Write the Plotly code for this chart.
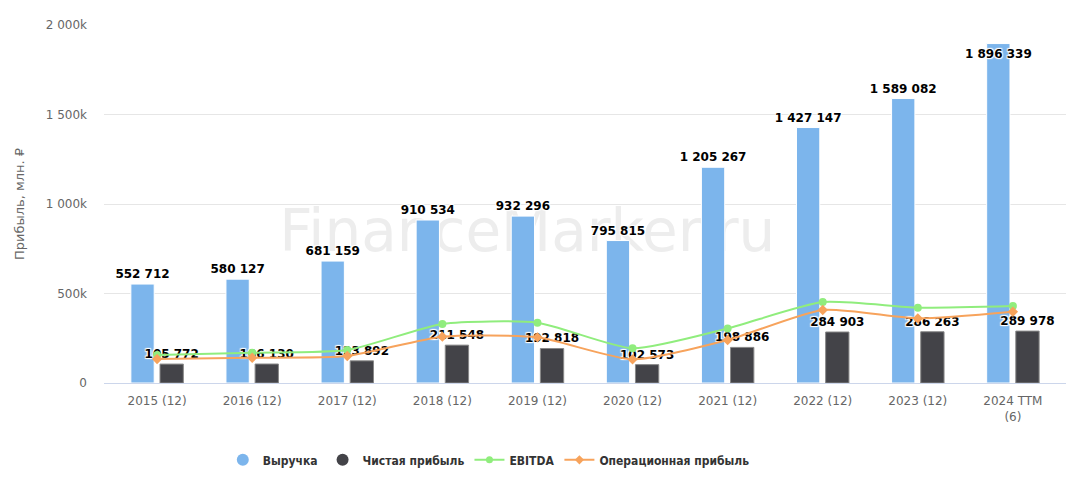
import plotly.graph_objects as go

# data
periods = ["2015 (12)", "2016 (12)", "2017 (12)", "2018 (12)", "2019 (12)",
           "2020 (12)", "2021 (12)", "2022 (12)", "2023 (12)", "2024 TTM<br>(6)"]
revenue = [552712, 580127, 681159, 910534, 932296, 795815, 1205267, 1427147, 1589082, 1896339]
net_profit = [105772, 106130, 123892, 211548, 192818, 102573, 198886, 284903, 286263, 289978]
ebitda = [156000, 169000, 184000, 330000, 337000, 194000, 305000, 452000, 421000, 430000]
op_profit = [134000, 141000, 151000, 259000, 255000, 132000, 240000, 408000, 361000, 398000]

y_ticks = [0, 500000, 1000000, 1500000, 2000000]
y_tick_text = ["0", "500k", "1 000k", "1 500k", "2 000k"]

c_rev = "#7cb5ec"
c_net = "#434348"
c_ebitda = "#90ed7d"
c_op = "#f7a35c"

halo = "1px 1px 1px #fff, -1px -1px 1px #fff, 1px -1px 1px #fff, -1px 1px 1px #fff"
label_font = dict(family="DejaVu Sans", size=12, color="#000", weight="bold", shadow=halo)

rev_pos = ["outside"] * (len(revenue) - 1) + ["inside"]

fig = go.Figure()
fig.add_trace(go.Bar(x=periods, y=revenue, name="Выручка", marker=dict(color=c_rev, line=dict(color="#fff", width=1)),
                     texttemplate="%{y:,}", textposition=rev_pos, insidetextanchor="end", constraintext="none",
                     textangle=0, textfont=label_font, insidetextfont=label_font, outsidetextfont=label_font,
                     cliponaxis=False, showlegend=False))
fig.add_trace(go.Bar(x=periods, y=net_profit, name="Чистая прибыль",
                     marker=dict(color=c_net, line=dict(color="#888", width=1)),
                     texttemplate="%{y:,}", textposition="outside", constraintext="none", textangle=0,
                     textfont=label_font, cliponaxis=False, showlegend=False))
fig.add_trace(go.Scatter(x=periods, y=ebitda, name="EBITDA", mode="lines+markers",
                         line=dict(color=c_ebitda, width=2, shape="spline", smoothing=0.6),
                         marker=dict(symbol="circle", size=8), showlegend=False))
fig.add_trace(go.Scatter(x=periods, y=op_profit, name="Операционная прибыль", mode="lines+markers",
                         line=dict(color=c_op, width=2, shape="spline", smoothing=0.6),
                         marker=dict(symbol="diamond", size=8), showlegend=False))

# legend entries (circles for the bar series, like the original)
fig.add_trace(go.Scatter(x=[None], y=[None], name="Выручка", mode="markers",
                         marker=dict(color=c_rev, size=12, symbol="circle")))
fig.add_trace(go.Scatter(x=[None], y=[None], name="Чистая прибыль", mode="markers",
                         marker=dict(color=c_net, size=12, symbol="circle")))
fig.add_trace(go.Scatter(x=[None], y=[None], name="EBITDA", mode="lines+markers",
                         line=dict(color=c_ebitda, width=2), marker=dict(symbol="circle", size=7)))
fig.add_trace(go.Scatter(x=[None], y=[None], name="Операционная прибыль", mode="lines+markers",
                         line=dict(color=c_op, width=2), marker=dict(symbol="diamond", size=7)))

# watermark behind the bars
fig.add_shape(type="rect", xref="paper", yref="paper", x0=0.34, x1=0.54, y0=0.40, y1=0.47,
              layer="below", line=dict(width=0), fillcolor="rgba(0,0,0,0)",
              label=dict(text="FinanceMarker.ru", textposition="middle center",
                         font=dict(family="DejaVu Sans", size=58, color="#ededed")))

fig.update_layout(
    width=1076, height=482,
    margin=dict(l=104, r=10, t=25, b=99),
    paper_bgcolor="#fff", plot_bgcolor="#fff",
    separators=", ",
    barmode="group", bargap=0.387, bargroupgap=0.2,
    font=dict(family="DejaVu Sans", size=12, color="#666"),
    legend=dict(orientation="h", x=0.40, xanchor="center", y=0.046, yref="container", yanchor="middle",
                font=dict(family="DejaVu Sans Condensed", size=12, color="#333", weight="bold"),
                itemwidth=30, tracegroupgap=0),
    xaxis=dict(showgrid=False, showline=True, linecolor="#ccd6eb", linewidth=1, automargin=False,
               tickfont=dict(size=12, color="#666"), ticks="", ticklabelstandoff=7),
    yaxis=dict(range=[0, 2000000], tickvals=y_ticks, ticktext=y_tick_text, automargin=False,
               gridcolor="#e6e6e6", zeroline=False, ticks="", ticklen=0, ticklabelstandoff=16,
               tickfont=dict(size=12, color="#666"),
               title=dict(text="Прибыль, млн. ₽", font=dict(size=13, color="#666"), standoff=18)),
)

fig.write_html("out.html", config={"displayModeBar": False},
               post_script="document.body.style.margin='0';document.body.style.overflow='hidden';")
